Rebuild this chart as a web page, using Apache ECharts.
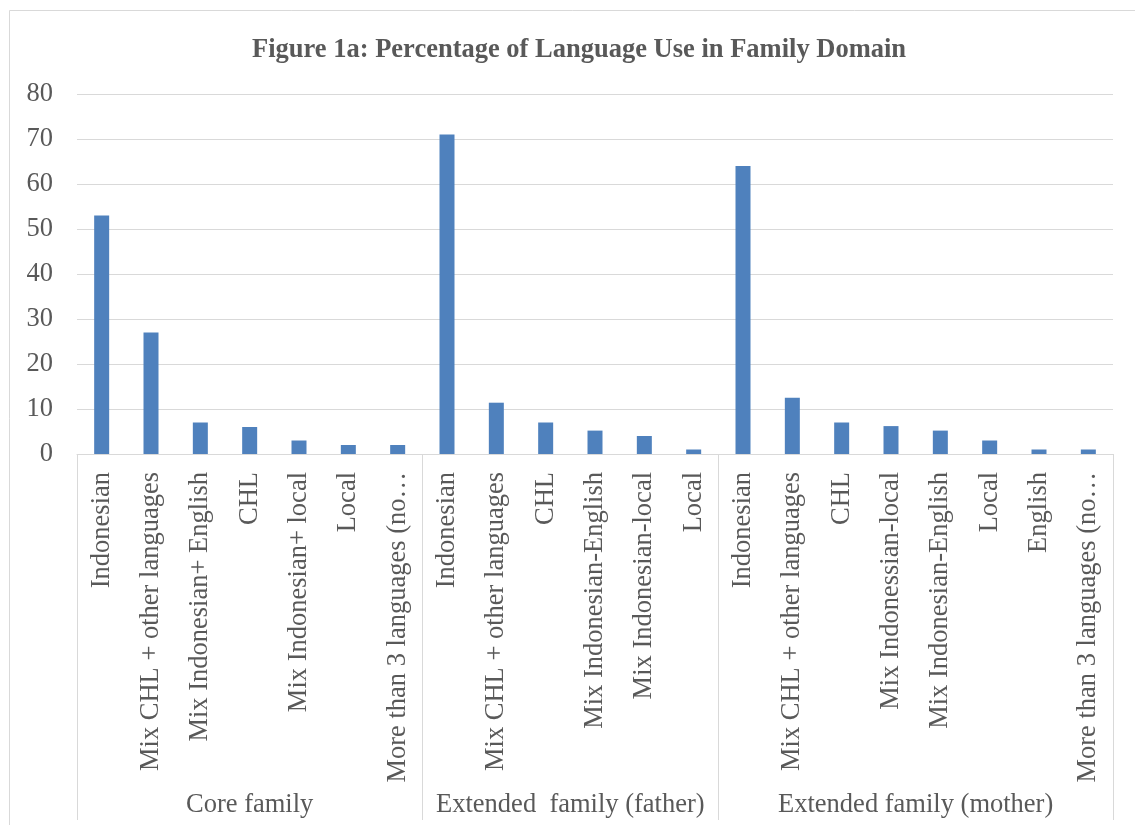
<!DOCTYPE html>
<html>
<head>
<meta charset="utf-8">
<title>Figure 1a: Percentage of Language Use in Family Domain</title>
<script src="https://cdn.jsdelivr.net/npm/echarts@6/dist/echarts.min.js"></script>
<style>
  html, body { margin: 0; padding: 0; background: #ffffff; }
  #chart { width: 1135px; height: 825px; }
</style>
</head>
<body>
<div id="chart"></div>
<script>
// Language use (%) in each family domain
const coreCategories = ['Indonesian', 'Mix CHL + other languages', 'Mix Indonesian+ English', 'CHL',
  'Mix Indonesian+ local', 'Local', 'More than 3 languages (no\u2026'];
const coreValues = [53, 27, 7, 6, 3, 2, 2];

const fatherCategories = ['Indonesian', 'Mix CHL + other languages', 'CHL', 'Mix Indonesian-English',
  'Mix Indonesian-local', 'Local'];
const fatherValues = [71, 11.4, 7, 5.2, 4, 1];

const motherCategories = ['Indonesian', 'Mix CHL + other languages', 'CHL', 'Mix Indonessian-local',
  'Mix Indonesian-English', 'Local', 'English', 'More than 3 languages (no\u2026'];
const motherValues = [64, 12.5, 7, 6.2, 5.2, 3, 1, 1];

const groupNames = ['Core family', 'Extended  family (father)', 'Extended family (mother)'];

const yTicks = [0, 10, 20, 30, 40, 50, 60, 70, 80];

// Flatten the groups onto one category axis
const groups = [coreCategories, fatherCategories, motherCategories];
const categories = [].concat(coreCategories, fatherCategories, motherCategories);
const values = [].concat(coreValues, fatherValues, motherValues);

// Group boundaries and centres, in category units
const boundaries = [0];
groups.forEach(g => boundaries.push(boundaries[boundaries.length - 1] + g.length));
const centres = groups.map((g, i) => (boundaries[i] + boundaries[i + 1]) / 2);

const FONT = '"Liberation Serif", "Times New Roman", serif';
const TEXT = '#595959';
const LINE = '#d9d9d9';

const chart = echarts.init(document.getElementById('chart'), null, { renderer: 'canvas' });

chart.setOption({
  animation: false,
  backgroundColor: '#ffffff',
  title: {
    text: 'Figure 1a: Percentage of Language Use in Family Domain',
    left: 247,
    top: 32,
    textStyle: { fontFamily: FONT, fontSize: 26.5, fontWeight: 'bold', color: TEXT }
  },
  graphic: [{
    type: 'rect',
    shape: { x: 9.5, y: 10.5, width: 1140, height: 830 },
    style: { fill: null, stroke: LINE, lineWidth: 1 },
    silent: true,
    z: -1
  }],
  grid: { left: 77, right: 22, top: 94, bottom: 371, containLabel: false },
  xAxis: [{
    type: 'category',
    data: categories,
    axisLine: { show: true, lineStyle: { color: LINE, width: 1 } },
    axisTick: { show: false },
    axisLabel: {
      interval: 0,
      rotate: 90,
      margin: 18,
      fontFamily: FONT,
      fontSize: 26.5,
      color: TEXT,
      hideOverlap: false
    }
  }, {
    type: 'value',
    position: 'bottom',
    min: 0,
    max: categories.length,
    axisLine: { show: false },
    splitLine: { show: false },
    axisTick: {
      show: true,
      customValues: boundaries,
      length: 366,
      lineStyle: { color: LINE, width: 1 }
    },
    axisLabel: {
      show: true,
      customValues: centres,
      margin: 338,
      fontFamily: FONT,
      fontSize: 26.5,
      color: TEXT,
      formatter: function (v) {
        const i = centres.indexOf(v);
        return i >= 0 ? groupNames[i] : '';
      }
    }
  }],
  yAxis: {
    type: 'value',
    min: yTicks[0],
    max: yTicks[yTicks.length - 1],
    interval: yTicks[1] - yTicks[0],
    axisLine: { show: false },
    axisTick: { show: false },
    splitLine: { show: true, lineStyle: { color: LINE, width: 1 } },
    axisLabel: { margin: 24, fontFamily: FONT, fontSize: 26.5, color: TEXT }
  },
  series: [{
    type: 'bar',
    xAxisIndex: 0,
    data: values,
    barWidth: 15,
    itemStyle: { color: '#4F81BD' }
  }]
});
</script>
</body>
</html>
